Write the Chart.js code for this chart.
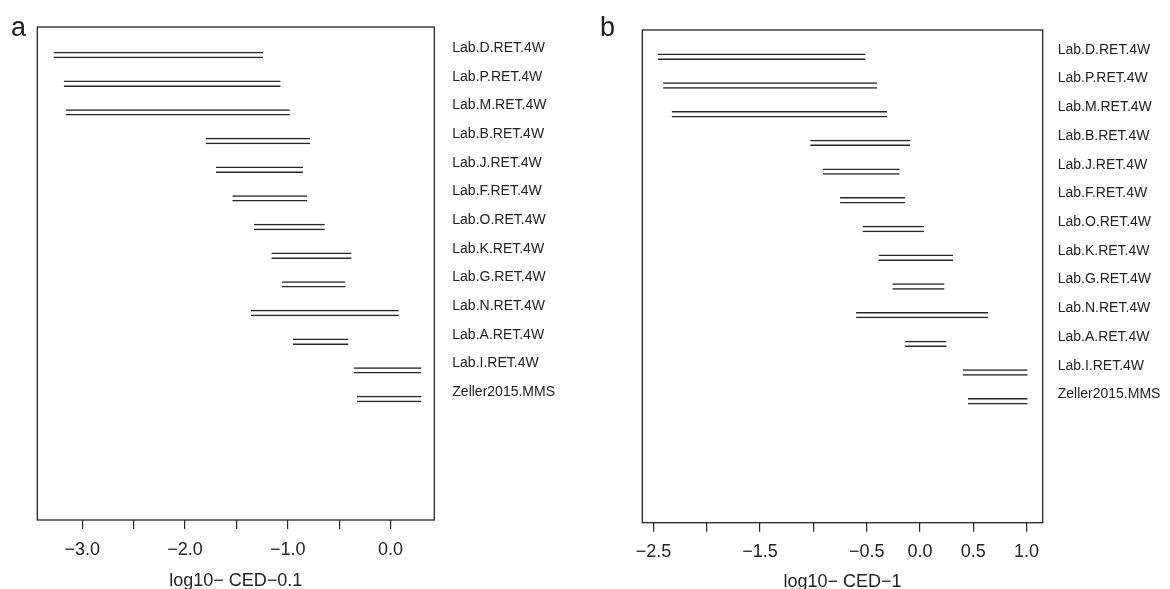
<!DOCTYPE html>
<html>
<head>
<meta charset="utf-8">
<script src="https://cdn.jsdelivr.net/npm/chart.js@4.4.1/dist/chart.umd.min.js"></script>
<style>
html, body { margin: 0; padding: 0; background: #fff; width: 1170px; height: 589px; overflow: hidden; }
.panel  { position: absolute; top: 0; width: 585px; height: 595px; }
#wrap-a { left: 0; }
#wrap-b { left: 585px; }
.letter { position: absolute; font: 27px "Liberation Sans", Arial, sans-serif; line-height: 27px; color: #222; }
</style>
</head>
<body>
<div class="panel" id="wrap-a"><canvas id="chart-a" width="585" height="595"></canvas></div>
<div class="panel" id="wrap-b"><canvas id="chart-b" width="585" height="595"></canvas></div>
<div class="letter" style="left:11px;top:14px">a</div>
<div class="letter" style="left:600px;top:14px">b</div>
<script>
'use strict';

const INK  = '#262626';
const FONT = '"Liberation Sans", Arial, Helvetica, sans-serif';

// rows, top to bottom
const ROWS = ['Lab.D.RET.4W', 'Lab.P.RET.4W', 'Lab.M.RET.4W', 'Lab.B.RET.4W', 'Lab.J.RET.4W',
              'Lab.F.RET.4W', 'Lab.O.RET.4W', 'Lab.K.RET.4W', 'Lab.G.RET.4W', 'Lab.N.RET.4W',
              'Lab.A.RET.4W', 'Lab.I.RET.4W', 'Zeller2015.MMS'];

// panel a: log10 CED-0.1 intervals
const A_LO = [-3.28, -3.18, -3.16, -1.80, -1.70, -1.54, -1.33, -1.16, -1.06, -1.36, -0.95, -0.36, -0.33];
const A_HI = [-1.24, -1.07, -0.98, -0.78, -0.85, -0.81, -0.64, -0.38, -0.44,  0.08, -0.41,  0.30,  0.30];

// panel b: log10 CED-1 intervals
const B_LO = [-2.46, -2.41, -2.33, -1.03, -0.91, -0.75, -0.54, -0.39, -0.26, -0.60, -0.14, 0.40, 0.45];
const B_HI = [-0.51, -0.40, -0.31, -0.09, -0.19, -0.14,  0.04,  0.31,  0.23,  0.64,  0.25, 1.01, 1.01];

const A_TICKS       = [-3, -2.5, -2, -1.5, -1, -0.5, 0];
const A_TICK_LABELS = ['−3.0', '', '−2.0', '', '−1.0', '', '0.0'];
const B_TICKS       = [-2.5, -2, -1.5, -1, -0.5, 0, 0.5, 1];
const B_TICK_LABELS = ['−2.5', '', '−1.5', '', '−0.5', '0.0', '0.5', '1.0'];

const LABEL_SHIFT = -0.24;   // row names sit a little above their lines

Chart.defaults.font.family = FONT;
Chart.defaults.color = '#222';

// full frame round the plot area
const boxPlugin = {
    id: 'box',
    afterDraw(chart) {
        const { ctx, chartArea: a } = chart;
        ctx.save();
        ctx.strokeStyle = INK;
        ctx.lineWidth = 1.3;
        ctx.strokeRect(a.left, a.top, a.right - a.left, a.bottom - a.top);
        ctx.restore();
    }
};

function makePanel(id, lo, hi, ticks, tickLabels, title, g) {
    new Chart(document.getElementById(id), {
        type: 'bar',
        data: {
            datasets: [{
                data: ROWS.map((_, k) => ({ x: [lo[k], hi[k]], y: k })),
                backgroundColor: 'rgba(0,0,0,0)',
                borderColor: INK,
                borderWidth: { top: 1.5, bottom: 1.5, left: 0, right: 0 },
                borderSkipped: false,
                barThickness: 6.4,
                inflateAmount: 0,
            }]
        },
        options: {
            indexAxis: 'y',
            responsive: false,
            animation: false,
            layout: { padding: { left: g.left, top: g.top, right: 0, bottom: 0 } },
            plugins: { legend: { display: false }, tooltip: { enabled: false } },
            scales: {
                x: {
                    type: 'linear',
                    offset: false,
                    min: g.xMin, max: g.xMax,
                    afterBuildTicks: s => { s.ticks = ticks.map(v => ({ value: v })); },
                    afterFit: s => { s.height = g.xH; },
                    border: { display: false },
                    grid: { drawOnChartArea: false, drawTicks: true, tickLength: 9, color: INK, lineWidth: 1.2 },
                    ticks: {
                        autoSkip: false, maxRotation: 0, padding: 10,
                        font: { size: 18 }, color: '#222',
                        callback: (v, i) => tickLabels[i],
                    },
                    title: { display: true, text: title, font: { size: 18 }, color: '#222', padding: { top: 0, bottom: g.titlePad } },
                },
                y: {
                    type: 'linear',
                    offset: false,
                    position: 'right',
                    reverse: true,
                    min: g.yMin, max: g.yMax,
                    afterBuildTicks: s => { s.ticks = ROWS.map((_, k) => ({ value: k + LABEL_SHIFT })); },
                    afterFit: s => { s.width = g.yW; },
                    border: { display: false },
                    grid: { display: false, drawTicks: false },
                    ticks: {
                        autoSkip: false, padding: g.labelPad,
                        font: { size: 14 }, color: '#222',
                        callback: (v, i) => ROWS[i],
                    },
                },
            },
        },
        plugins: [boxPlugin],
    });
}

makePanel('chart-a', A_LO, A_HI, A_TICKS, A_TICK_LABELS, 'log10− CED−0.1', {
    left: 37.3, top: 27, xH: 75, yW: 150.7, labelPad: 18, titlePad: 3,
    xMin: -3.437, xMax: 0.425, yMin: -0.977, yMax: 16.22,
});

makePanel('chart-b', B_LO, B_HI, B_TICKS, B_TICK_LABELS, 'log10− CED−1', {
    left: 57.3, top: 30, xH: 72.3, yW: 127.3, labelPad: 15, titlePad: 2.5,
    xMin: -2.605, xMax: 1.151, yMin: -0.933, yMax: 16.23,
});
</script>
</body>
</html>
